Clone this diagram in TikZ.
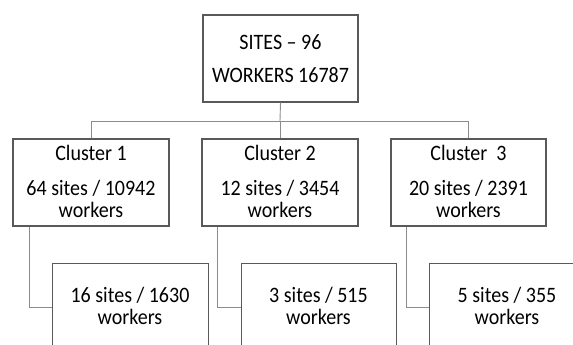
\documentclass[tikz,border=0pt]{standalone}
\usepackage{fontspec}
\setmainfont{Carlito}[FakeStretch=0.91]
\definecolor{boxline}{HTML}{595959}
\definecolor{linkline}{HTML}{8C8C8C}
\begin{document}
\begin{tikzpicture}[x=1pt,y=-1pt,
  boxnode/.style={draw=boxline,line width=1.1pt,fill=white,inner sep=0pt,minimum height=87pt},
  lowbox/.style={draw=boxline,line width=1.1pt,fill=white,inner sep=0pt,minimum height=120pt,minimum width=156pt,anchor=north west},
  txt/.style={anchor=base,font=\fontsize{22}{24}\selectfont,inner sep=0pt,text=black},
  link/.style={draw=linkline,line width=0.9pt}]
\useasboundingbox (0,0) rectangle (573,345);
\clip (0,0) rectangle (573,345);
% boxes
\node[boxnode,minimum width=155pt] (top) at (280.5,58.5) {};
\node[boxnode,minimum width=156pt] (c1) at (91,182.5) {};
\node[boxnode,minimum width=156pt] (c2) at (280,182.5) {};
\node[boxnode,minimum width=155pt] (c3) at (468.5,182.5) {};
\node[lowbox] (b1) at (52,263) {};
\node[lowbox,minimum width=155pt] (b2) at (241,263) {};
\node[lowbox] (b3) at (429,263) {};
% connectors
\coordinate (hub) at (280,121);
\draw[link] (top.south) -- (hub);
\draw[link] (c1.north) -- (c1.north |- hub) -- (c3.north |- hub) -- (c3.north);
\draw[link] (hub) -- (c2.north);
\draw[link] ([xshift=17pt]c1.south west) |- ([yshift=-44pt]b1.north west);
\draw[link] ([xshift=16pt]c2.south west) |- ([yshift=-44pt]b2.north west);
\draw[link] ([xshift=16pt]c3.south west) |- ([yshift=-44pt]b3.north west);
% texts
\node[txt] (t0a) at (280.5,49) {SITES – 96};
\node[txt] (t0b) at (280.5,82) {WORKERS 16787};
\node[txt] (t1a) at (91,160) {Cluster 1};
\node[txt] (t1b) at (91,195) {64 sites / 10942};
\node[txt] (t1c) at (91,217) {workers};
\node[txt] (t2a) at (280,160) {Cluster 2};
\node[txt] (t2b) at (280,195) {12 sites / 3454};
\node[txt] (t2c) at (280,217) {workers};
\node[txt] (t3a) at (468.5,160) {Cluster\ \ 3};
\node[txt] (t3b) at (468.5,195) {20 sites / 2391};
\node[txt] (t3c) at (468.5,217) {workers};
\node[txt] (t4a) at (130,302) {16 sites / 1630};
\node[txt] (t4b) at (130,324) {workers};
\node[txt] (t5a) at (318.5,302) {3 sites / 515};
\node[txt] (t5b) at (318.5,324) {workers};
\node[txt] (t6a) at (507,302) {5 sites / 355};
\node[txt] (t6b) at (507,324) {workers};
\end{tikzpicture}
\end{document}
